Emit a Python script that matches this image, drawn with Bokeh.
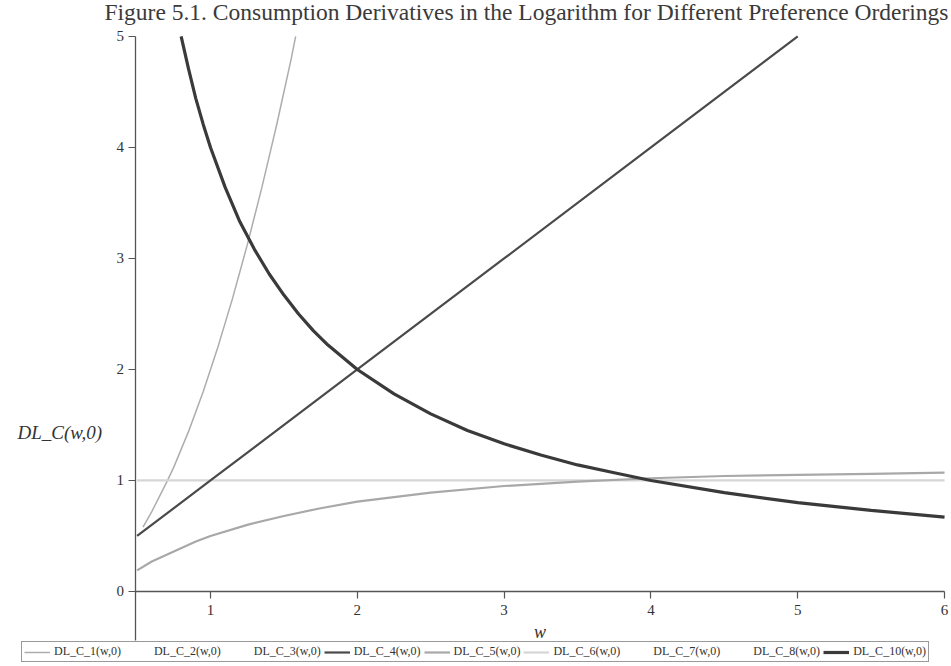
from bokeh.plotting import figure
from bokeh.models import LinearAxis, Legend, LegendItem, Label, Range1d, FixedTicker
from bokeh.embed import file_html
from bokeh.resources import INLINE

# ---- data ----
x_c1 = [0.54, 0.6, 0.65, 0.7, 0.75, 0.8, 0.85, 0.9, 0.95, 1.0, 1.05, 1.1, 1.15, 1.2, 1.25,
        1.3, 1.35, 1.4, 1.45, 1.5, 1.55, 1.58]
y_c1 = [0.58, 0.72, 0.85, 0.98, 1.12, 1.28, 1.44, 1.62, 1.8, 2.0, 2.2, 2.42, 2.64, 2.88, 3.12,
        3.38, 3.64, 3.92, 4.2, 4.5, 4.8, 5.0]

x_c4 = [0.5, 1.0, 2.0, 3.0, 4.0, 5.0]
y_c4 = [0.5, 1.0, 2.0, 3.0, 4.0, 5.0]

x_c5 = [0.5, 0.6, 0.75, 0.9, 1.0, 1.25, 1.5, 1.75, 2.0, 2.5, 3.0, 3.5, 4.0, 4.5, 5.0, 5.5, 6.0]
y_c5 = [0.19, 0.27, 0.36, 0.45, 0.5, 0.6, 0.68, 0.75, 0.81, 0.89, 0.95, 0.99, 1.02, 1.04, 1.05, 1.06, 1.07]

x_c6 = [0.5, 6.0]
y_c6 = [1.0, 1.0]

x_c10 = [0.8, 0.85, 0.9, 0.95, 1.0, 1.1, 1.2, 1.3, 1.4, 1.5, 1.6, 1.7, 1.8, 1.9, 2.0, 2.25, 2.5,
         2.75, 3.0, 3.25, 3.5, 3.75, 4.0, 4.5, 5.0, 5.5, 6.0]
y_c10 = [5.0, 4.71, 4.44, 4.21, 4.0, 3.64, 3.33, 3.08, 2.86, 2.67, 2.5, 2.35, 2.22, 2.11, 2.0, 1.78, 1.6,
         1.45, 1.33, 1.23, 1.14, 1.07, 1.0, 0.89, 0.8, 0.73, 0.67]

x_ticks = [1, 2, 3, 4, 5, 6]
y_ticks = [0, 1, 2, 3, 4, 5]

series_names = ["DL_C_1(w,0)", "DL_C_2(w,0)", "DL_C_3(w,0)", "DL_C_4(w,0)", "DL_C_5(w,0)",
                "DL_C_6(w,0)", "DL_C_7(w,0)", "DL_C_8(w,0)", "DL_C_10(w,0)"]

title_text = "Figure 5.1. Consumption Derivatives in the Logarithm for Different Preference Orderings"

SERIF = "Liberation Serif"

p = figure(width=951, height=666, output_backend="svg", toolbar_location=None,
           x_range=Range1d(-0.4305, 6.027), y_range=Range1d(-0.658, 5.324),
           x_axis_location=None, y_axis_location=None,
           min_border_left=0, min_border_right=3, min_border_top=0, min_border_bottom=2)
p.background_fill_color = "white"
p.border_fill_color = "white"
p.outline_line_color = None
p.grid.visible = False

# title as a text annotation at the top right
title = Label(x=6.027, y=5.22, text=title_text, text_align="right", text_baseline="middle",
              text_font=SERIF, text_font_size="23.5px", text_color="#3a3a3a")
p.add_layout(title)

# axes (drawn at fixed data positions, limited by bounds)
xaxis = LinearAxis(fixed_location=0, bounds=(0.486, 6.0), ticker=FixedTicker(ticks=x_ticks))
xaxis.axis_label = "w"
yaxis = LinearAxis(fixed_location=0.486, bounds=(-0.44, 5.0), ticker=FixedTicker(ticks=y_ticks))
for ax in (xaxis, yaxis):
    ax.axis_line_color = "#555555"
    ax.axis_line_width = 1.3
    ax.major_tick_line_color = "#555555"
    ax.major_tick_line_width = 1.2
    ax.major_tick_out = 7
    ax.major_tick_in = 0
    ax.minor_tick_line_color = None
    ax.major_label_text_font = SERIF
    ax.major_label_text_font_size = "15px"
    ax.major_label_text_color = "#333333"
xaxis.major_label_standoff = 7
xaxis.axis_label_text_font = SERIF
xaxis.axis_label_text_font_style = "italic"
xaxis.axis_label_text_font_size = "18px"
xaxis.axis_label_text_color = "#333333"
xaxis.axis_label_standoff = 3
yaxis.major_label_standoff = 4
p.add_layout(xaxis, "below")
p.add_layout(yaxis, "left")

ylab = Label(x=0.486, y=1.43, x_offset=-33, text="DL_C(w,0)", text_align="right",
             text_baseline="middle", text_font=SERIF, text_font_style="italic",
             text_font_size="19px", text_color="#333333")
p.add_layout(ylab)

# lines
r1 = p.line(x_c1, y_c1, line_color="#adadad", line_width=1.5)
r2 = p.line([], [], line_color="white", line_width=1.5)
r3 = p.line([], [], line_color="white", line_width=1.5)
r6 = p.line(x_c6, y_c6, line_color="#d6d6d6", line_width=2.2)
r5 = p.line(x_c5, y_c5, line_color="#a8a8a8", line_width=2.2)
r7 = p.line([], [], line_color="#9a9a9a", line_width=1.5)
r8 = p.line([], [], line_color="white", line_width=1.5)
r4 = p.line(x_c4, y_c4, line_color="#4a4a4a", line_width=2.2)
r10 = p.line(x_c10, y_c10, line_color="#3a3a3a", line_width=3.2)

renderers = [r1, r2, r3, r4, r5, r6, r7, r8, r10]
items = [LegendItem(label=n, renderers=[r]) for n, r in zip(series_names, renderers)]
legend = Legend(items=items, orientation="horizontal", location=(21, 2))
legend.label_text_font = SERIF
legend.label_text_font_size = "12px"
legend.label_text_color = "#333333"
legend.glyph_width = 26
legend.glyph_height = 12
legend.label_standoff = 4
legend.label_width = 66
legend.label_height = 12
legend.spacing = 3
legend.padding = 2
legend.margin = 0
legend.border_line_color = "#333333"
legend.border_line_width = 1
legend.background_fill_color = "white"
p.add_layout(legend, "center")

open("out.html", "w").write(file_html(p, INLINE))
